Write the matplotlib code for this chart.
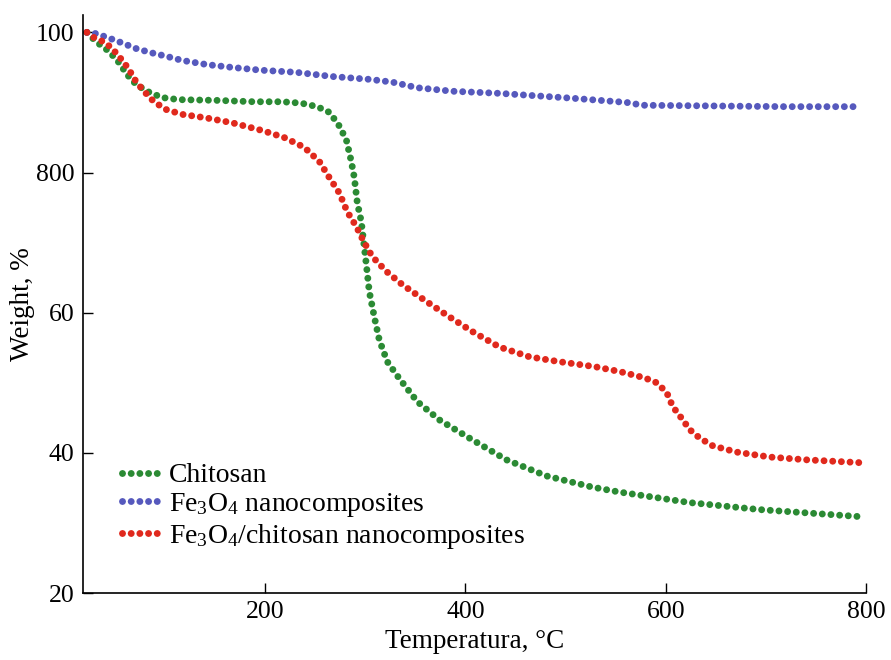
import matplotlib
matplotlib.use('Agg')
import matplotlib.pyplot as plt

plt.rcParams['font.family'] = ['Liberation Serif', 'DejaVu Serif']
plt.rcParams['mathtext.fontset'] = 'custom'
plt.rcParams['mathtext.rm'] = 'Liberation Serif'
plt.rcParams['mathtext.it'] = 'Liberation Serif:italic'

# data (temperature in C, weight in %)
chitosan_t = [22, 31, 44, 54, 62, 71, 82, 97, 114, 151, 189, 217, 236, 252, 264, 273,
              281, 286, 289, 292, 296, 301, 304, 309, 314, 322, 334, 352, 374, 404,
              441, 481, 527, 554, 624, 694, 794]
chitosan_w = [100, 98.7, 97.3, 95.7, 94.0, 92.6, 91.6, 90.7, 90.4, 90.3, 90.1, 90.1, 89.9,
              89.4, 88.6, 86.9, 84.7, 81.6, 79.3, 75.7, 73.0, 66.9, 63.0, 59.4, 56.1,
              53.0, 50.6, 47.3, 44.7, 42.1, 39.0, 36.7, 35.1, 34.4, 32.9, 31.9, 30.9]

fe3o4_t = [22, 27, 42, 57, 71, 86, 101, 117, 142, 167, 196, 231, 267, 304, 327, 352,
           387, 434, 507, 561, 577, 650, 720, 789]
fe3o4_w = [100, 100, 99.3, 98.5, 97.7, 97.1, 96.6, 96.0, 95.4, 95.0, 94.6, 94.3, 93.7,
           93.3, 92.9, 92.1, 91.6, 91.3, 90.6, 90.0, 89.6, 89.5, 89.4, 89.4]

composite_t = [22, 27, 41, 51, 59, 64, 71, 79, 89, 101, 117, 141, 167, 197, 219, 239,
               254, 264, 274, 282, 291, 299, 307, 321, 337, 361, 384, 407, 434, 464,
               494, 529, 554, 579, 591, 601, 607, 616, 624, 634, 647, 671, 704, 741, 794]
composite_w = [100, 99.4, 98.5, 97.1, 95.7, 94.7, 93.0, 91.6, 90.1, 89.0, 88.3, 87.8,
               87.1, 86.0, 85.0, 83.6, 81.6, 79.3, 77.1, 74.4, 72.3, 70.0, 68.0, 65.9,
               64.0, 61.6, 59.4, 57.3, 55.1, 53.7, 53.0, 52.3, 51.6, 50.7, 50.0, 48.6,
               46.6, 44.9, 43.3, 42.1, 41.0, 40.1, 39.4, 39.0, 38.6]

labels = ['Chitosan', 'Fe$_3$O$_4$ nanocomposites', 'Fe$_3$O$_4$/chitosan nanocomposites']
colors = ['#2b8a34', '#5659bd', '#e0291d']

yticks = [20, 40, 60, 80, 100]
ytick_labels = ['20', '40', '60', '800', '100']
xticks = [200, 400, 600, 800]

fig = plt.figure(figsize=(8.91, 6.6), dpi=100)
ax = fig.add_axes([0.093, 0.1015, 0.879, 0.876])

dots = (0, (0.001, 1.25))
for t, w, lab, c in [(chitosan_t, chitosan_w, labels[0], colors[0]),
                     (fe3o4_t, fe3o4_w, labels[1], colors[1]),
                     (composite_t, composite_w, labels[2], colors[2])]:
    ax.plot(t, w, color=c, lw=5, linestyle=dots, dash_capstyle='round', label=lab)

ax.set_xlim(18, 800)
ax.set_ylim(20, 102.5)
ax.set_xticks(xticks)
ax.set_yticks(yticks)
ax.set_yticklabels(ytick_labels)
ax.tick_params(direction='in', length=7, width=1, labelsize=18.5, pad=6)
ax.spines['top'].set_visible(False)
ax.spines['right'].set_visible(False)
for s in ['left', 'bottom']:
    ax.spines[s].set_linewidth(1.2)

ax.set_xlabel('Temperatura, °C', fontsize=19.5, labelpad=4)
ax.set_ylabel('Weight, %', fontsize=19.5, labelpad=1)

ax.legend(loc='lower left', bbox_to_anchor=(0.05, 0.073), frameon=False,
          fontsize=20, handlelength=1.3, handletextpad=0.4,
          labelspacing=0.1, borderpad=0, borderaxespad=0)

fig.savefig('out.png', dpi=100)
